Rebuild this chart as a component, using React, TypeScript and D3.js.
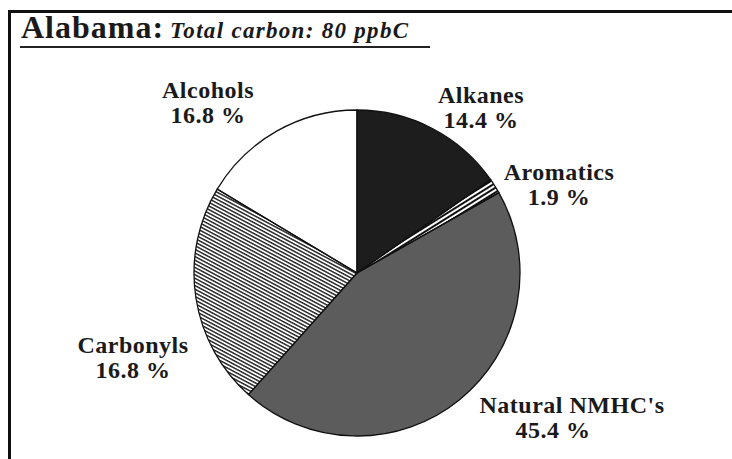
import React from "react";
import * as d3 from "d3";

// slice shares (clockwise from 12 o'clock)
const categories = ["Alkanes", "Aromatics", "Natural NMHC's", "Carbonyls", "Alcohols"];
const shares = [15.3, 1.5, 44.8, 22.0, 16.4];
// percentages as printed on the figure
const printedPct = ["14.4 %", "1.9 %", "45.4 %", "16.8 %", "16.8 %"];

const W = 732, H = 459;
const cx = 357, cy = 273, R = 163;

// label anchors (name line, value line)
const labelPos: Record<string, { x: number; y: number; vx: number }> = {
  "Alkanes": { x: 481, y: 103, vx: 481 },
  "Aromatics": { x: 559, y: 180, vx: 559 },
  "Natural NMHC's": { x: 572, y: 413, vx: 553 },
  "Carbonyls": { x: 133, y: 353, vx: 133 },
  "Alcohols": { x: 208, y: 98, vx: 208 },
};

const fills: Record<string, string> = {
  "Alkanes": "#1d1d1d",
  "Aromatics": "url(#arom)",
  "Natural NMHC's": "#5c5c5c",
  "Carbonyls": "url(#hatch)",
  "Alcohols": "#ffffff",
};

export default function App() {
  const pie = d3.pie<number>().sort(null).value((d) => d).startAngle(0).endAngle(2 * Math.PI);
  const arcs = pie(shares);
  const arc = d3.arc<d3.PieArcDatum<number>>().innerRadius(0).outerRadius(R);
  const font = "'Liberation Serif', 'Times New Roman', serif";

  return (
    <svg width={W} height={H} style={{ position: "absolute", left: 0, top: 0, background: "#fff" }}>
      <defs>
        <pattern id="hatch" width="3.2" height="3.2" patternUnits="userSpaceOnUse" patternTransform="rotate(28)">
          <rect width="3.2" height="3.2" fill="#fff" />
          <rect width="3.2" height="1.5" fill="#2a2a2a" />
        </pattern>
        <pattern id="arom" width="4" height="4" patternUnits="userSpaceOnUse" patternTransform="rotate(-32)">
          <rect width="4" height="4" fill="#fff" />
          <rect width="4" height="2" fill="#111" />
        </pattern>
      </defs>

      {/* frame */}
      <path d={`M9.5,${H + 5} V11.5 H${W + 5}`} fill="none" stroke="#111" strokeWidth={3} />

      {/* title */}
      <text x={21} y={38} fontFamily={font} fontWeight="bold" fontSize={32} letterSpacing={1} fill="#1a1a1a">
        Alabama:
        <tspan dx={6} fontSize={23} fontStyle="italic" letterSpacing={1.3}>Total carbon: 80 ppbC</tspan>
      </text>
      <line x1={20} x2={430} y1={47} y2={47} stroke="#222" strokeWidth={2} />

      <g transform={`translate(${cx},${cy})`}>
        {arcs.map((a, i) => (
          <path key={categories[i]} d={arc(a) || ""} fill={fills[categories[i]]} />
        ))}
        {arcs.map((a, i) => (
          <path key={"o" + categories[i]} d={arc(a) || ""} fill="none" stroke="#111" strokeWidth={1.3} />
        ))}
      </g>

      {categories.map((c, i) => {
        const p = labelPos[c];
        return (
          <g key={"l" + c} fontFamily={font} fontWeight="bold" fontSize={24} letterSpacing={0.5}
            fill="#1a1a1a" textAnchor="middle">
            <text x={p.x} y={p.y}>{c}</text>
            <text x={p.vx} y={p.y + 25}>{printedPct[i]}</text>
          </g>
        );
      })}
    </svg>
  );
}
